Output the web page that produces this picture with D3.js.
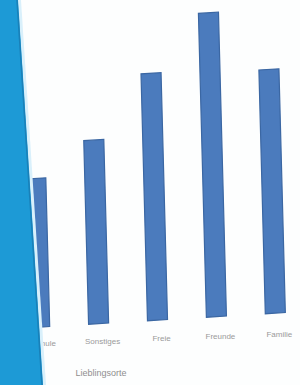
<!DOCTYPE html>
<html><head><meta charset="utf-8">
<script src="https://cdn.jsdelivr.net/npm/d3@7"></script>
<style>body{margin:0;background:#fff}svg{display:block}</style>
</head><body>
<script>
const categories = ["Schule", "Sonstiges", "Freie", "Freunde", "Familie"];
const values = [47, 58, 78, 96, 77];
const axisTitle = "Lieblingsorte";

const W = 300, H = 385;
const svg = d3.select("body").append("svg").attr("width", W).attr("height", H);
svg.append("rect").attr("width", W).attr("height", H).attr("fill", "#fdfefe");

const x = d3.scaleBand().domain(categories).range([12, 303]).paddingInner(0.66).paddingOuter(0.3);
const y = d3.scaleLinear().domain([0, 100]).range([320, 3]);

const g = svg.append("g")
  .attr("transform", "translate(160,320) skewY(-3.4) skewX(1.5) translate(-160,-320)");

g.selectAll("rect.bar").data(values).join("rect")
  .attr("class", "bar")
  .attr("x", (d, i) => x(categories[i]))
  .attr("width", x.bandwidth())
  .attr("y", d => y(d))
  .attr("height", d => y(0) - y(d))
  .attr("fill", "#4b7bbd")
  .attr("stroke", "#3b67a3")
  .attr("stroke-width", 1.2);

const tilt = xx => 346 - 0.04 * (xx - 40);
svg.selectAll("text.lab").data(categories).join("text")
  .attr("class", "lab")
  .attr("x", d => x(d) + x.bandwidth() / 2 + 4)
  .attr("y", d => tilt(x(d) + x.bandwidth() / 2))
  .attr("text-anchor", "middle")
  .attr("font-family", "Liberation Sans, Arial, sans-serif")
  .attr("font-size", 8)
  .attr("fill", "#9a9a9a")
  .text(d => d);

svg.append("text")
  .attr("x", 101).attr("y", 376)
  .attr("text-anchor", "middle")
  .attr("font-family", "Liberation Sans, Arial, sans-serif")
  .attr("font-size", 9)
  .attr("fill", "#8f8f8f")
  .text(axisTitle);

// blue diagonal band on the left
svg.append("polygon")
  .attr("points", "0,0 21,0 46,385 0,385")
  .attr("fill", "#d9f0fb");
svg.append("polygon")
  .attr("points", "0,0 18,0 43,385 0,385")
  .attr("fill", "#1d9ad6");
svg.append("line")
  .attr("x1", 17).attr("y1", 0).attr("x2", 42).attr("y2", 385)
  .attr("stroke", "#1a80b8").attr("stroke-width", 1.5);
</script>
</body></html>
